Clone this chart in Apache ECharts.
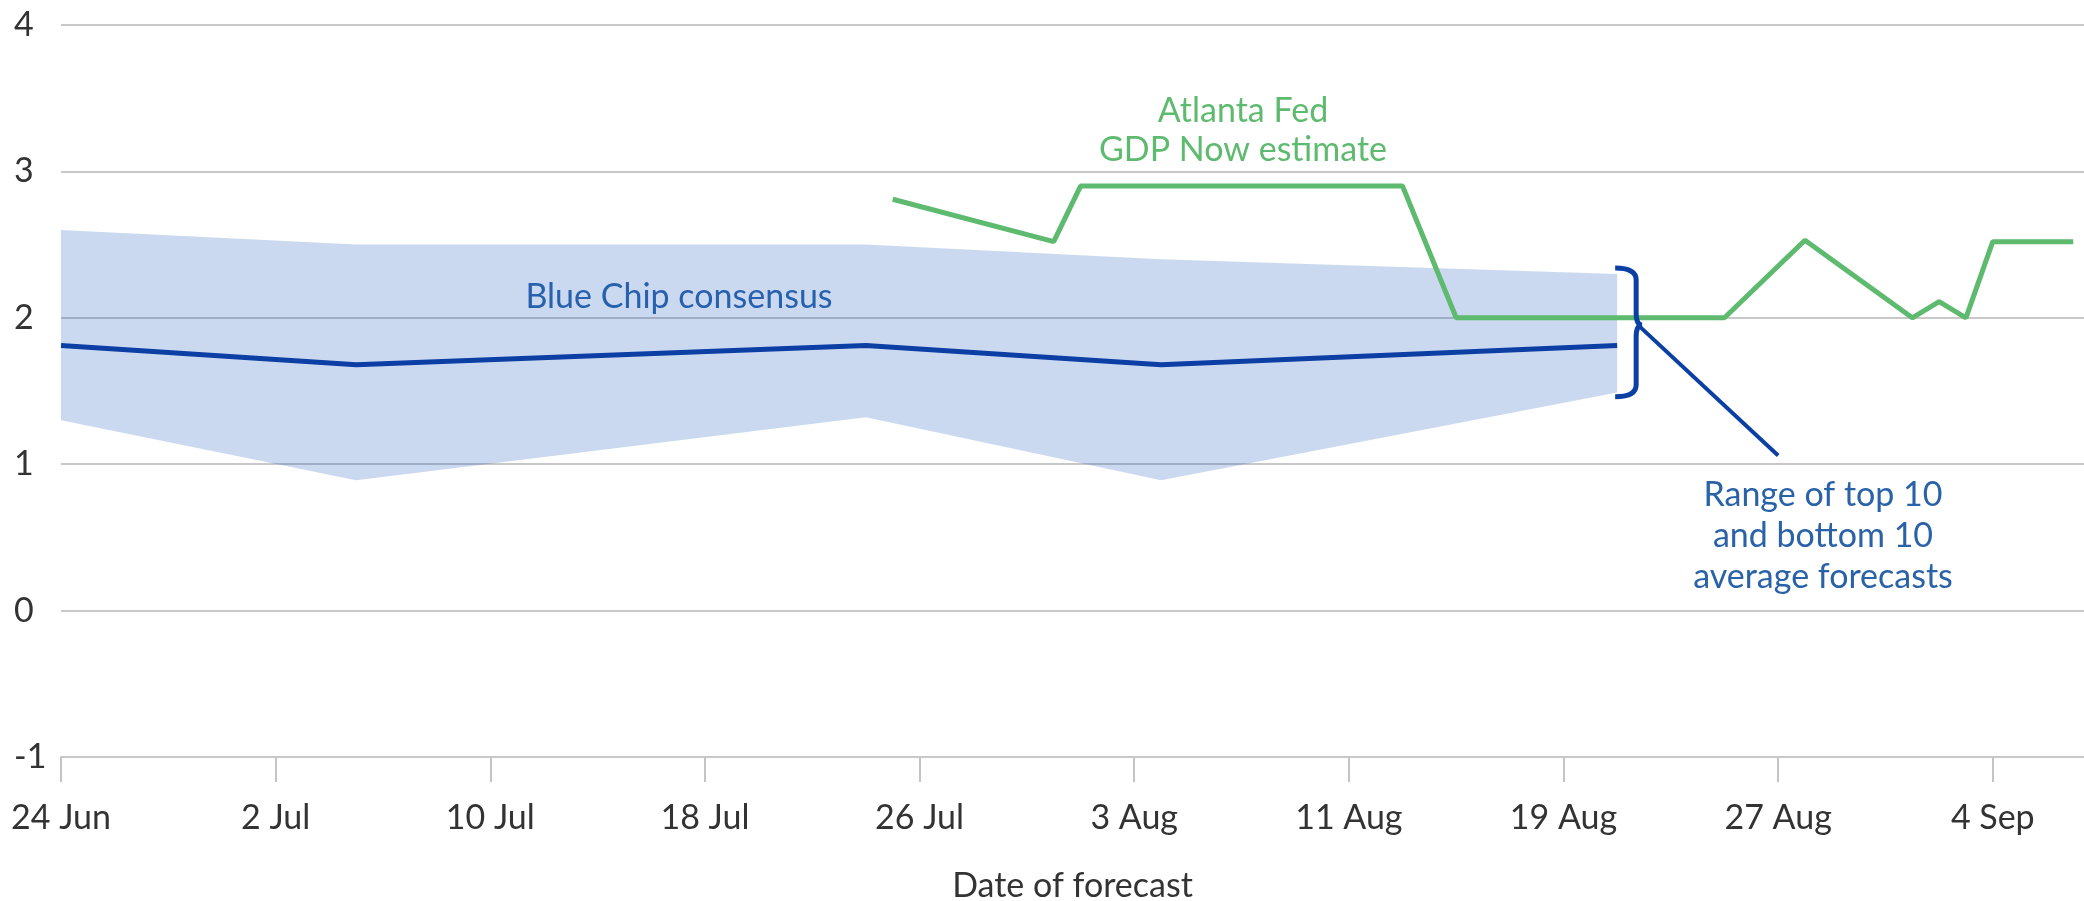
<!DOCTYPE html>
<html lang="en">
<head>
<meta charset="UTF-8">
<title>Blue Chip consensus and GDP Now</title>
<script src="https://cdn.jsdelivr.net/npm/echarts@6/dist/echarts.min.js"></script>
<style>
    html, body { margin: 0; padding: 0; background: #fff; }
    #main { width: 2084px; height: 901px; }
</style>
</head>
<body>
<div id="main"></div>
<script type="text/javascript">
// x positions are days counted from 24 Jun (first tick), dates written as 'MM-DD'
var xTickLabels = ['24 Jun', '2 Jul', '10 Jul', '18 Jul', '26 Jul', '3 Aug', '11 Aug', '19 Aug', '27 Aug', '4 Sep'];
var xTickDays = [0, 8, 16, 24, 32, 40, 48, 56, 64, 72];

// Blue Chip consensus and the range of top 10 / bottom 10 average forecasts
var consensusDates = ['06-24', '07-05', '07-24', '08-04', '08-21'];
var consensusValues = [1.81, 1.68, 1.81, 1.68, 1.81];
var rangeTop = [2.60, 2.50, 2.50, 2.40, 2.30];
var rangeBottom = [1.30, 0.89, 1.32, 0.89, 1.49];

// Atlanta Fed GDP Now estimate
var gdpNowDates = ['07-25', '07-31', '08-01', '08-13', '08-15', '08-25', '08-28', '09-01', '09-02', '09-03', '09-04', '09-07'];
var gdpNowValues = [2.81, 2.52, 2.90, 2.90, 2.00, 2.00, 2.53, 2.00, 2.11, 2.00, 2.52, 2.52];

function dayOf(md) {
    var p = md.split('-');
    return (Date.UTC(2000, +p[0] - 1, +p[1]) - Date.UTC(2000, 5, 24)) / 86400000;
}

var consensusDays = consensusDates.map(dayOf);
var gdpNowDays = gdpNowDates.map(dayOf);

var consensusData = consensusDays.map(function (d, i) { return [d, consensusValues[i]]; });
var gdpNowData = gdpNowDays.map(function (d, i) { return [d, gdpNowValues[i]]; });

var FONT = 'Lato';
var darkBlue = '#0c3fa4';
var textBlue = '#2a62a8';
var green = '#5dba6e';

var myChart = echarts.init(document.getElementById('main'));

myChart.setOption({
    animation: false,
    grid: { left: 61, right: 0, top: 25, bottom: 144, outerBoundsMode: 'none' },
    xAxis: {
        type: 'value',
        min: 0,
        max: 75.4,
        name: 'Date of forecast',
        nameLocation: 'middle',
        nameGap: 112,
        nameTextStyle: { fontFamily: FONT, fontSize: 34, color: '#333' },
        axisLine: { onZero: false, lineStyle: { color: '#c8c8c8', width: 2 } },
        axisTick: { show: true, length: 25, customValues: xTickDays, lineStyle: { color: '#c4c4c4', width: 2 } },
        axisLabel: {
            customValues: xTickDays,
            margin: 44,
            fontFamily: FONT,
            fontSize: 34,
            color: '#333',
            formatter: function (v) {
                var i = xTickDays.indexOf(v);
                return i >= 0 ? xTickLabels[i] : '';
            }
        },
        splitLine: { show: false }
    },
    yAxis: {
        type: 'value',
        min: -1,
        max: 4,
        interval: 1,
        axisLine: { show: false },
        axisTick: { show: false },
        axisLabel: { align: 'left', margin: 47, fontFamily: FONT, fontSize: 34, color: '#333' },
        splitLine: { lineStyle: { color: '#c8c8c8', width: 2 } }
    },
    series: [
        {
            // shaded band between top 10 and bottom 10 averages
            type: 'custom',
            silent: true,
            data: [[consensusDays[0], rangeTop[0]]],
            z: 1,
            renderItem: function (params, api) {
                var pts = [];
                for (var i = 0; i < consensusDays.length; i++) {
                    pts.push(api.coord([consensusDays[i], rangeTop[i]]));
                }
                for (var j = consensusDays.length - 1; j >= 0; j--) {
                    pts.push(api.coord([consensusDays[j], rangeBottom[j]]));
                }
                return { type: 'polygon', shape: { points: pts }, style: { fill: 'rgba(30,90,190,0.23)' } };
            }
        },
        {
            name: 'Blue Chip consensus',
            type: 'line',
            data: consensusData,
            showSymbol: false,
            z: 3,
            lineStyle: { color: darkBlue, width: 5 }
        },
        {
            name: 'Atlanta Fed GDP Now estimate',
            type: 'line',
            data: gdpNowData,
            showSymbol: false,
            z: 4,
            lineStyle: { color: green, width: 5 }
        },
        {
            // brace at the end of the band and the leader line to its label
            type: 'custom',
            silent: true,
            z: 5,
            data: [[consensusDays[consensusDays.length - 1], rangeTop[rangeTop.length - 1]]],
            renderItem: function (params, api) {
                var last = consensusDays.length - 1;
                var top = api.coord([consensusDays[last], rangeTop[last] + 0.04]);
                var bot = api.coord([consensusDays[last], rangeBottom[last] - 0.03]);
                var mid = api.coord([consensusDays[last], 1.95]);
                var x0 = top[0] - 2, xv = x0 + 21, xt = x0 + 27, r = 12;
                var yt = top[1], yb = bot[1], ym = mid[1];
                var d = 'M' + x0 + ',' + yt +
                    ' Q' + xv + ',' + yt + ' ' + xv + ',' + (yt + r) +
                    ' L' + xv + ',' + (ym - r) +
                    ' Q' + xv + ',' + ym + ' ' + xt + ',' + ym +
                    ' Q' + xv + ',' + ym + ' ' + xv + ',' + (ym + r) +
                    ' L' + xv + ',' + (yb - r) +
                    ' Q' + xv + ',' + yb + ' ' + x0 + ',' + yb;
                var end = api.coord([64, 1.06]);
                return {
                    type: 'group',
                    children: [
                        { type: 'path', shape: { pathData: d }, style: { fill: null, stroke: darkBlue, lineWidth: 5 } },
                        { type: 'line', shape: { x1: xt - 4, y1: ym, x2: end[0], y2: end[1] }, style: { stroke: darkBlue, lineWidth: 4 } }
                    ]
                };
            }
        }
    ],
    graphic: [
        {
            type: 'text', x: 679, y: 297,
            style: { text: 'Blue Chip consensus', fill: textBlue, font: '34px ' + FONT, textAlign: 'center', textVerticalAlign: 'middle' }
        },
        {
            type: 'text', x: 1243, y: 131,
            style: { text: 'Atlanta Fed\nGDP Now estimate', fill: green, font: '34px ' + FONT, lineHeight: 39, textAlign: 'center', textVerticalAlign: 'middle' }
        },
        {
            type: 'text', x: 1823, y: 536,
            style: { text: 'Range of top 10\nand bottom 10\naverage forecasts', fill: textBlue, font: '34px ' + FONT, lineHeight: 41, textAlign: 'center', textVerticalAlign: 'middle' }
        }
    ]
});
</script>
</body>
</html>
